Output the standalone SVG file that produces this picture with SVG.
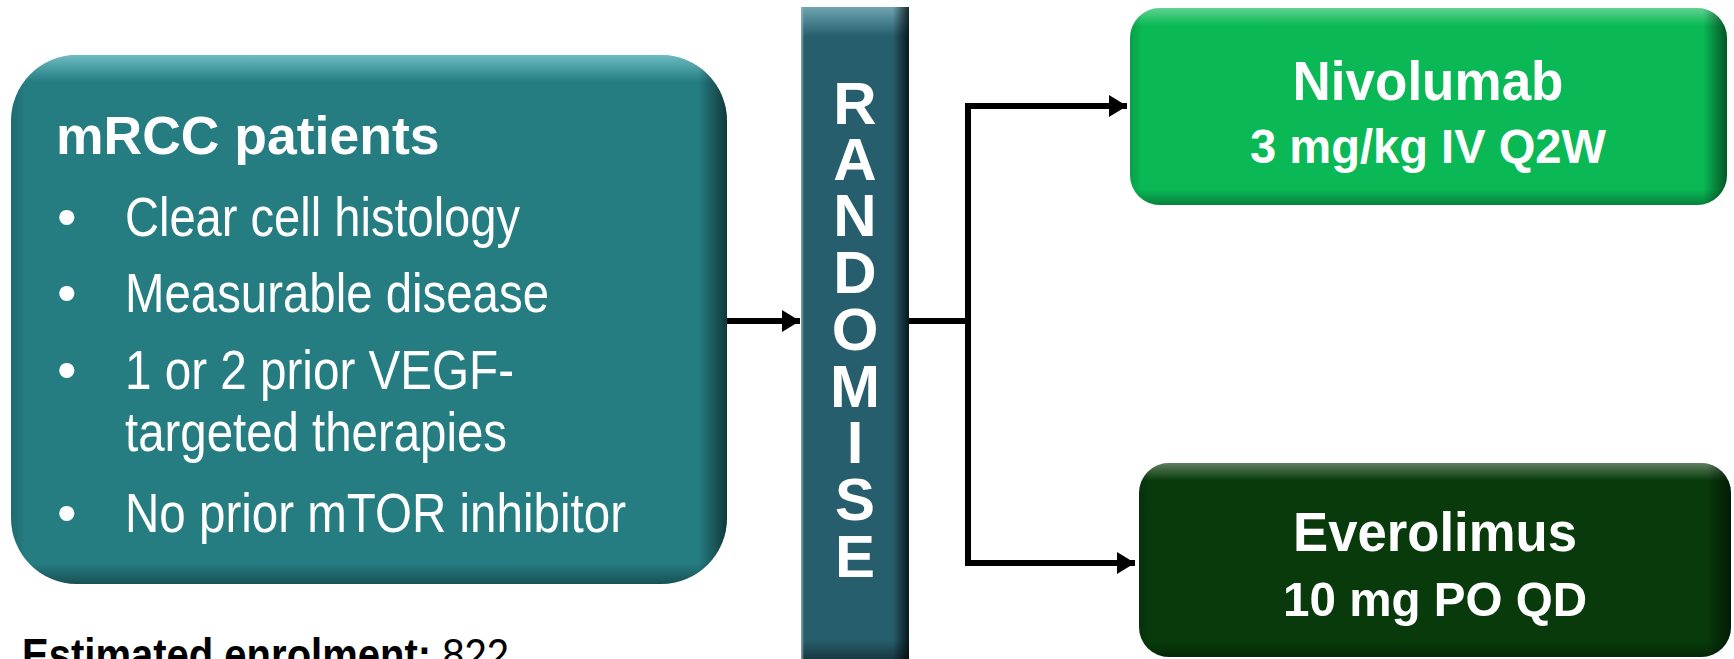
<svg xmlns="http://www.w3.org/2000/svg" width="1734" height="659" viewBox="0 0 1734 659">
  <style>
    .hd { font-family: "Liberation Sans", Arial, sans-serif; font-weight: bold; fill: #ffffff; }
    .tx { font-family: "Liberation Sans", Arial, sans-serif; fill: #ffffff; }
    .blk { font-family: "Liberation Sans", Arial, sans-serif; fill: #000000; }
    .wire { fill: none; stroke: #000000; stroke-width: 6; stroke-linejoin: miter; }
  </style>
  <defs>
    <marker id="arrow" markerUnits="userSpaceOnUse" markerWidth="20" markerHeight="24" refX="18" refY="12" orient="auto">
      <path d="M0,1 L18,12 L0,23 Z" fill="#000000"/>
    </marker>
    <!-- soft bevel: light rim at top, darker rim at bottom -->
    <linearGradient id="topLight" x1="0" y1="0" x2="0" y2="1">
      <stop offset="0" stop-color="#a8f0f6" stop-opacity="0.55"/>
      <stop offset="0.05" stop-color="#a8f0f6" stop-opacity="0"/>
      <stop offset="0.96" stop-color="#000000" stop-opacity="0"/>
      <stop offset="1" stop-color="#000000" stop-opacity="0.35"/>
    </linearGradient>
    <linearGradient id="sideShade" x1="0" y1="0" x2="1" y2="0">
      <stop offset="0" stop-color="#000000" stop-opacity="0.15"/>
      <stop offset="0.02" stop-color="#000000" stop-opacity="0"/>
      <stop offset="0.96" stop-color="#000000" stop-opacity="0"/>
      <stop offset="1" stop-color="#000000" stop-opacity="0.55"/>
    </linearGradient>
    <linearGradient id="barSide" x1="0" y1="0" x2="1" y2="0">
      <stop offset="0" stop-color="#9fb3b8" stop-opacity="0.9"/>
      <stop offset="0.03" stop-color="#9fb3b8" stop-opacity="0"/>
      <stop offset="0.85" stop-color="#000000" stop-opacity="0"/>
      <stop offset="1" stop-color="#000000" stop-opacity="0.75"/>
    </linearGradient>
    <linearGradient id="barTop" x1="0" y1="0" x2="0" y2="1">
      <stop offset="0" stop-color="#8cc3cd" stop-opacity="0.7"/>
      <stop offset="0.045" stop-color="#8cc3cd" stop-opacity="0"/>
      <stop offset="0.97" stop-color="#000000" stop-opacity="0"/>
      <stop offset="1" stop-color="#000000" stop-opacity="0.4"/>
    </linearGradient>
    <linearGradient id="greenTop" x1="0" y1="0" x2="0" y2="1">
      <stop offset="0" stop-color="#ffffff" stop-opacity="0.35"/>
      <stop offset="0.09" stop-color="#ffffff" stop-opacity="0"/>
      <stop offset="0.92" stop-color="#000000" stop-opacity="0"/>
      <stop offset="1" stop-color="#000000" stop-opacity="0.3"/>
    </linearGradient>
  </defs>

  <!-- patient population -->
  <g id="population">
    <rect x="11" y="55" width="716" height="529" rx="66" fill="#257d82"/>
    <rect x="11" y="55" width="716" height="529" rx="66" fill="url(#topLight)"/>
    <rect x="11" y="55" width="716" height="529" rx="66" fill="url(#sideShade)"/>
    <text class="hd" x="56" y="154" font-size="53.5">mRCC patients</text>
    <g class="tx" font-size="56">
      <text x="57" y="236">•</text>
      <text x="125" y="236" textLength="395" lengthAdjust="spacingAndGlyphs">Clear cell histology</text>
      <text x="57" y="312">•</text>
      <text x="125" y="312" textLength="424" lengthAdjust="spacingAndGlyphs">Measurable disease</text>
      <text x="57" y="389">•</text>
      <text x="125" y="389" textLength="389" lengthAdjust="spacingAndGlyphs">1 or 2 prior VEGF-</text>
      <text x="125" y="451" textLength="382" lengthAdjust="spacingAndGlyphs">targeted therapies</text>
      <text x="57" y="532">•</text>
      <text x="125" y="532" textLength="501" lengthAdjust="spacingAndGlyphs">No prior mTOR inhibitor</text>
    </g>
  </g>

  <!-- enrolment note -->
  <g id="enrolment">
    <text class="blk" transform="translate(22 671) scale(0.87 1)" font-size="46"><tspan font-weight="bold">Estimated enrolment: </tspan>822</text>
  </g>

  <!-- randomisation bar -->
  <g id="randomise">
    <rect x="801" y="7" width="108" height="652" fill="#275e6d"/>
    <rect x="801" y="7" width="108" height="652" fill="url(#barTop)"/>
    <rect x="801" y="7" width="108" height="652" fill="url(#barSide)"/>
    <text class="hd" font-size="60" text-anchor="middle"><tspan x="855" y="124">R</tspan><tspan x="855" y="180">A</tspan><tspan x="855" y="236">N</tspan><tspan x="855" y="293">D</tspan><tspan x="855" y="350">O</tspan><tspan x="855" y="407">M</tspan><tspan x="855" y="463">I</tspan><tspan x="855" y="520">S</tspan><tspan x="855" y="577">E</tspan></text>
  </g>

  <!-- treatment arms -->
  <g id="nivolumab">
    <rect x="1130" y="8" width="597" height="197" rx="30" fill="#0ab955"/>
    <rect x="1130" y="8" width="597" height="197" rx="30" fill="url(#greenTop)"/>
    <rect x="1130" y="8" width="597" height="197" rx="30" fill="url(#sideShade)"/>
    <text class="hd" x="1428" y="100" font-size="56" text-anchor="middle" textLength="271" lengthAdjust="spacingAndGlyphs">Nivolumab</text>
    <text class="hd" x="1428" y="163" font-size="48" text-anchor="middle" textLength="356" lengthAdjust="spacingAndGlyphs">3 mg/kg IV Q2W</text>
  </g>

  <g id="everolimus">
    <rect x="1139" y="463" width="592" height="194" rx="30" fill="#083a0b"/>
    <rect x="1139" y="463" width="592" height="194" rx="30" fill="url(#greenTop)"/>
    <rect x="1139" y="463" width="592" height="194" rx="30" fill="url(#sideShade)"/>
    <text class="hd" x="1435" y="551" font-size="56" text-anchor="middle" textLength="284" lengthAdjust="spacingAndGlyphs">Everolimus</text>
    <text class="hd" x="1435" y="616" font-size="49" text-anchor="middle" textLength="304" lengthAdjust="spacingAndGlyphs">10 mg PO QD</text>
  </g>

  <!-- connectors -->
  <g id="connectors">
    <path class="wire" d="M727,321 H800" marker-end="url(#arrow)"/>
    <path class="wire" d="M909,321 H968"/>
    <path class="wire" d="M968,106 V563 H1135" marker-end="url(#arrow)"/>
    <path class="wire" d="M965,106 H1127" marker-end="url(#arrow)"/>
  </g>
</svg>
